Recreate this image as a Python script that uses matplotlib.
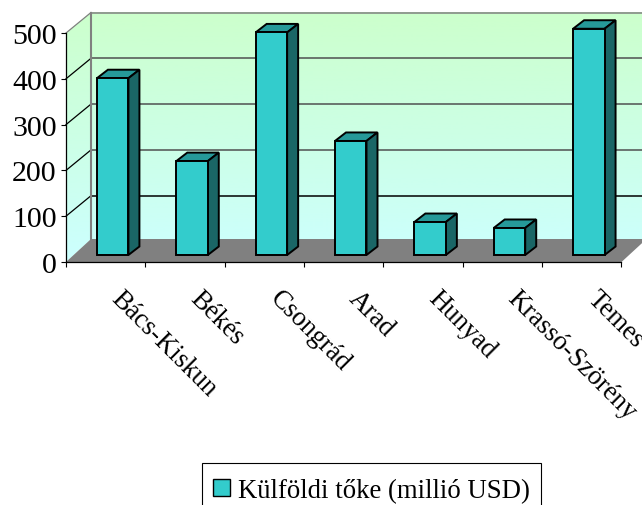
import numpy as np
import matplotlib
matplotlib.use('Agg')
import matplotlib.pyplot as plt
from matplotlib.patches import Patch, Polygon, Rectangle
from matplotlib.colors import LinearSegmentedColormap

plt.rcParams['font.family'] = ['Liberation Serif', 'DejaVu Serif']

categories = ['Bács-Kiskun', 'Békés', 'Csongrád', 'Arad', 'Hunyad', 'Krassó-Szörény', 'Temes']
values = [386, 205, 486, 249, 72, 59, 494]
yticks = [0, 100, 200, 300, 400, 500]
legend_label = 'Külföldi tőke (millió USD)'

W, H = 642, 506
left, right, bottom, top = 66, 621.5, 263, 34

fig = plt.figure(figsize=(W / 100, H / 100), dpi=100)

# background axes in pixels, for the wall gradient and the legend box
bg = fig.add_axes([0, 0, 1, 1], zorder=0)
bg.set_axis_off()
cmap = LinearSegmentedColormap.from_list('wall', ['#CCFFCC', '#CCFFFF'])
grad = np.linspace(0, 1, 256).reshape(-1, 1)
img = bg.imshow(grad, cmap=cmap, aspect='auto', origin='upper', extent=(0, W, 263, 13))
wall = Polygon([(left, bottom), (91, 240), (W, 240), (W, 13), (91, 13), (left, top)],
               transform=bg.transData, fill=False, lw=0)
bg.add_patch(wall)
img.set_clip_path(wall)
bg.add_patch(Rectangle((202, 464), 339, 60, facecolor='white', edgecolor='black', lw=0.8))
bg.set_xlim(0, W)
bg.set_ylim(H, 0)

ax = fig.add_axes([left / W, 1 - bottom / H, (right - left) / W, (bottom - top) / H], zorder=1)
ncat = len(categories)
ax.patch.set_visible(False)

# pixel sizes to data units
ux = (right - left) / ncat
uy = (bottom - top) / 500
wall_dx, wall_dy = 25 / ux, 20.5 / uy
floor_dy = 23 / uy
bar_dx, bar_dy = 11 / ux, 8.5 / uy
bar_w = 31.5 / ux
bar_off = 7 / ux
base = 7 / uy

ax.set_xlim(0, ncat)
ax.set_ylim(0, 500)

# floor
ax.fill([0, ncat, ncat + wall_dx, wall_dx], [0, 0, floor_dy, floor_dy],
        color='#808080', lw=0, zorder=1, clip_on=False)

# gridlines on the side and back wall
for v in yticks[1:]:
    c = '#000000' if v == 100 else '#505050'
    ax.plot([wall_dx, ncat + 1], [v + wall_dy, v + wall_dy], color=c if v < 500 else '#808080',
            lw=1.1, zorder=1, clip_on=False)
    ax.plot([0, wall_dx], [v, v + wall_dy], color='#000000' if v < 500 else '#808080',
            lw=0.9, zorder=1, clip_on=False)
ax.plot([wall_dx, wall_dx], [floor_dy, 500 + wall_dy], color='#808080', lw=1.5, zorder=1, clip_on=False)

# bars
xpos = np.arange(ncat) + 0.5 + bar_off
ax.bar(xpos, values, width=bar_w, bottom=base, color='#33CCCC', edgecolor='black', lw=1.4, zorder=3,
       clip_on=False)
for x, v in zip(xpos, values):
    x0, x1 = x - bar_w / 2, x + bar_w / 2
    y0, y1 = base, base + v
    ax.fill([x0, x1, x1 + bar_dx, x0 + bar_dx], [y1, y1, y1 + bar_dy, y1 + bar_dy],
            facecolor='#269999', edgecolor='black', lw=1.4, zorder=2, clip_on=False)
    ax.fill([x1, x1 + bar_dx, x1 + bar_dx, x1], [y0, y0 + bar_dy, y1 + bar_dy, y1],
            facecolor='#1A6666', edgecolor='black', lw=1.4, zorder=2, clip_on=False)

# axes
for s in ['top', 'right']:
    ax.spines[s].set_visible(False)
for s in ['left', 'bottom']:
    ax.spines[s].set_linewidth(0.9)
    ax.spines[s].set_zorder(4)
ax.set_yticks(yticks)
ax.tick_params(axis='y', labelsize=21.5, length=3.6, width=0.8, pad=3)
ax.set_xticks(np.arange(ncat + 1))
ax.set_xticklabels([])
ax.tick_params(axis='x', length=3.6, width=0.8)

for i, name in enumerate(categories):
    ax.annotate(name, (i + 0.5, 0), xytext=(9, -32), textcoords='offset pixels', rotation=-45,
                rotation_mode='anchor', ha='left', va='center', fontsize=19.3, annotation_clip=False)

# legend is cut off by the lower edge in the original, box is drawn above
leg = fig.legend(handles=[Patch(facecolor='#33CCCC', edgecolor='black', lw=1.0, label=legend_label)],
                 loc='upper left', bbox_to_anchor=(202 / W, 1 - 468 / H), fontsize=19.3,
                 frameon=False, borderaxespad=0,
                 handlelength=0.63, handleheight=0.63, handletextpad=0.3, borderpad=0.4)

fig.savefig('out.png', dpi=100)
